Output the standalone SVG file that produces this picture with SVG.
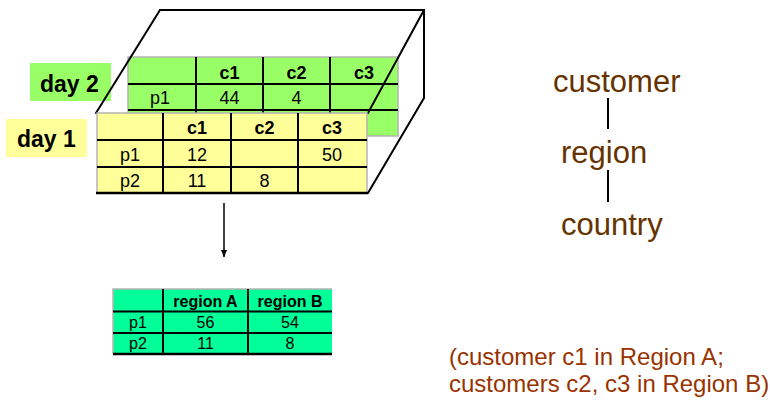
<svg xmlns="http://www.w3.org/2000/svg" width="770" height="400" viewBox="0 0 770 400">
  <style>
    text { font-family: "Liberation Sans", Arial, sans-serif; fill: #000; }
    .hdr { font-weight: bold; font-size: 18px; text-anchor: middle; }
    .cell { font-size: 18px; text-anchor: middle; }
    .hdr2 { font-weight: bold; font-size: 16px; text-anchor: middle; }
    .cell2 { font-size: 16px; text-anchor: middle; }
    .day { font-weight: bold; font-size: 23px; }
    .hier { font-size: 31px; fill: #663300; }
    .note { font-size: 24px; fill: #993300; }
    .grid { stroke: #000; stroke-width: 2; fill: none; }
    .edge { stroke: #b4b4b4; stroke-width: 1.5; fill: none; }
    .cube { stroke: #000; stroke-width: 2; fill: none; stroke-linecap: round; }
  </style>
  <defs>
    <marker id="arrowhead" markerWidth="8" markerHeight="8" refX="7" refY="4" orient="auto" markerUnits="userSpaceOnUse">
      <path d="M0,1 L7,4 L0,7 Z" fill="#000"/>
    </marker>
  </defs>

  <rect width="770" height="400" fill="#fff"/>

  <!-- back of the cube -->
  <g id="cube-back">
    <line class="cube" x1="160" y1="10" x2="424" y2="10"/>
    <line class="cube" x1="424" y1="10" x2="424" y2="98"/>
    <line class="cube" x1="424" y1="98" x2="368" y2="193"/>
  </g>

  <!-- day 2 slice -->
  <g id="day2-table">
    <rect x="128" y="57" width="270" height="79" fill="#99FF66"/>
    <path class="edge" d="M128,136 V57 H398 V136 H128"/>
    <path class="grid" d="M128,84 H398 M128,110 H398 M196,57 V136 M263,57 V136 M330,57 V136"/>
    <text class="hdr" x="229.5" y="79">c1</text>
    <text class="hdr" x="296.5" y="79">c2</text>
    <text class="hdr" x="364" y="79">c3</text>
    <text class="cell" x="160" y="104">p1</text>
    <text class="cell" x="229.5" y="104">44</text>
    <text class="cell" x="296.5" y="104">4</text>
  </g>

  <g id="day2-label">
    <rect x="30" y="63" width="81" height="38" fill="#99FF66"/>
    <text class="day" x="40" y="91.5">day 2</text>
  </g>

  <!-- front edges of the cube -->
  <g id="cube-front">
    <line class="cube" x1="160" y1="10" x2="96" y2="113"/>
    <line class="cube" x1="424" y1="10" x2="368" y2="113"/>
  </g>

  <!-- day 1 slice -->
  <g id="day1-table">
    <rect x="97" y="113" width="270" height="80" fill="#FFFF99"/>
    <path class="edge" d="M97,193 V113 H367 V193"/>
    <path class="grid" d="M97,140 H367 M97,167 H367 M163,113 V193 M231,113 V193 M298,113 V193"/>
    <line x1="96" y1="193" x2="368" y2="193" stroke="#000" stroke-width="2.5"/>
    <text class="hdr" x="197" y="134">c1</text>
    <text class="hdr" x="264.5" y="134">c2</text>
    <text class="hdr" x="332" y="134">c3</text>
    <text class="cell" x="130" y="161">p1</text>
    <text class="cell" x="197" y="161">12</text>
    <text class="cell" x="332" y="161">50</text>
    <text class="cell" x="130" y="187">p2</text>
    <text class="cell" x="197" y="187">11</text>
    <text class="cell" x="264.5" y="187">8</text>
  </g>

  <g id="day1-label">
    <rect x="6" y="119" width="81" height="38" fill="#FFFF99"/>
    <text class="day" x="17" y="146.5">day 1</text>
  </g>

  <!-- aggregated result -->
  <g id="region-table">
    <rect x="113" y="289" width="219" height="65" fill="#00FF99"/>
    <path class="edge" d="M113,354 V289 H332"/>
    <path class="grid" d="M113,311.5 H332 M113,333 H332 M163,289 V354 M248,289 V354"/>
    <line x1="113" y1="354" x2="332" y2="354" stroke="#000" stroke-width="2.5"/>
    <text class="hdr2" x="205.5" y="307">region A</text>
    <text class="hdr2" x="290" y="307">region B</text>
    <text class="cell2" x="138" y="328">p1</text>
    <text class="cell2" x="205.5" y="328">56</text>
    <text class="cell2" x="290" y="328">54</text>
    <text class="cell2" x="138" y="349">p2</text>
    <text class="cell2" x="205.5" y="349">11</text>
    <text class="cell2" x="290" y="349">8</text>
  </g>

  <!-- hierarchy -->
  <g id="customer"><text class="hier" x="553" y="92">customer</text></g>
  <g id="region"><text class="hier" x="561" y="163">region</text></g>
  <g id="country"><text class="hier" x="561" y="235">country</text></g>

  <g id="connectors">
    <line x1="224" y1="203" x2="224" y2="257" stroke="#000" stroke-width="1.5" marker-end="url(#arrowhead)"/>
    <line x1="608" y1="98" x2="608" y2="129" stroke="#000" stroke-width="2"/>
    <line x1="608" y1="170" x2="608" y2="202" stroke="#000" stroke-width="2"/>
  </g>

  <g id="note">
    <text class="note" x="449" y="365">(customer c1 in Region A;</text>
    <text class="note" x="449" y="392">customers c2, c3 in Region B)</text>
  </g>
</svg>
